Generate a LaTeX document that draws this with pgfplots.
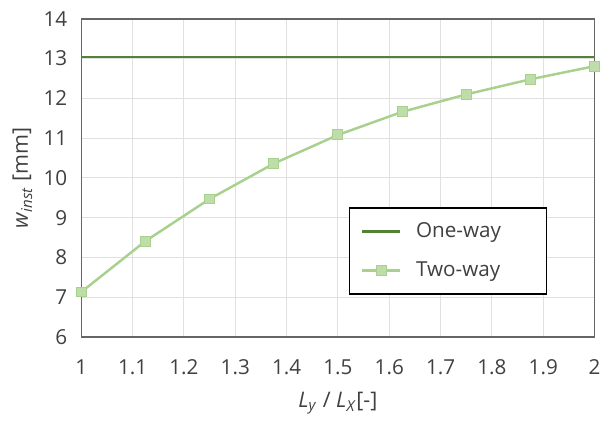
\documentclass[border=0pt]{standalone}
\usepackage{pgfplots}
\pgfplotsset{compat=1.18}
\usepackage{fontspec}
\setmainfont{Open Sans}
\definecolor{oneway}{HTML}{538135}
\definecolor{twoway}{HTML}{A9D18E}
\definecolor{twofill}{HTML}{BFDDA9}
\definecolor{txt}{HTML}{404040}
\definecolor{gridc}{HTML}{E0E0E0}
\begin{document}
\begin{tikzpicture}[x=1pt,y=1pt]
\begin{axis}[
  at={(0,0)}, anchor=south west,
  scale only axis, width=310.8pt, height=192.6pt,
  xmin=1, xmax=2, ymin=6, ymax=14,
  xtick={1,1.1,...,2.01}, ytick={6,7,...,14},
  xticklabel style={/pgf/number format/fixed, /pgf/number format/precision=1},
  /pgf/number format/assume math mode=true,
  tick label style={font=\fontsize{12.5}{14}\selectfont, text=txt},
  xtick style={draw=none}, ytick style={draw=none},
  grid=major, grid style={gridc, line width=0.6pt},
  axis line style={draw=txt!80, line width=0.8pt},
  xticklabel style={yshift=-10pt},
  yticklabel style={xshift=-5pt},
  xlabel={\textit{L}\textsubscript{\textit{y}} / \textit{L}\textsubscript{\textit{X}}[-]},
  ylabel={\textit{w}\textsubscript{\textit{inst}} [mm]},
  label style={font=\fontsize{13}{15}\selectfont, text=txt},
  xlabel style={yshift=-4pt},
  ylabel style={yshift=0pt},
  legend style={at={(axis cs:1.521,9.26)}, anchor=north west, draw=black, line width=0.9pt,
    font=\fontsize{12.5}{14}\selectfont, text=txt, inner xsep=7pt, inner ysep=7pt, row sep=9pt,
    text width=63pt, nodes={inner xsep=9pt}},
  legend cell align=left,
  legend image code/.code={
    \draw[#1, mark repeat=2, mark phase=2] plot coordinates {(0cm,0cm) (0.4cm,0cm) (0.8cm,0cm)};},
]
\addplot[oneway, line width=1.6pt, mark=none] coordinates {(1,13.04) (2,13.04)};
\addlegendentry{One-way}
\addplot[twoway, line width=1.5pt, mark=square*, mark size=3pt,
  mark options={fill=twofill, draw=twoway, line width=0.6pt}] coordinates {
(1,7.13) (1.125,8.41) (1.25,9.47) (1.375,10.36) (1.5,11.08) (1.625,11.66) (1.75,12.10) (1.875,12.48) (2,12.81)};
\addlegendentry{Two-way}
\end{axis}
\path[use as bounding box] (-49.2pt,-52.8pt) rectangle (314.4pt,204pt);
\end{tikzpicture}
\end{document}
